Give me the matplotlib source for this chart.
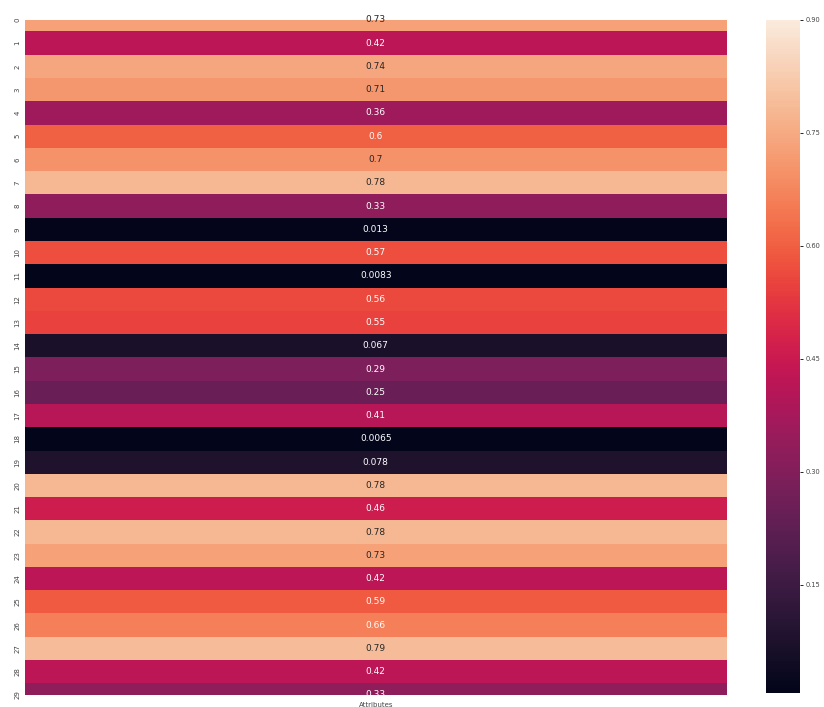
import matplotlib
matplotlib.use("Agg")
import matplotlib.pyplot as plt
from matplotlib.ticker import FixedLocator, FormatStrFormatter
import seaborn as sns
import pandas as pd

# valeurs (colonne unique "Attributes")
filas = list(range(30))
valores = [0.73, 0.42, 0.74, 0.71, 0.36, 0.6, 0.7, 0.78, 0.33, 0.013,
           0.57, 0.0083, 0.56, 0.55, 0.067, 0.29, 0.25, 0.41, 0.0065, 0.078,
           0.78, 0.46, 0.78, 0.73, 0.42, 0.59, 0.66, 0.79, 0.42, 0.33]
columnas = ["Attributes"]
ticks_cbar = [0.15, 0.30, 0.45, 0.60, 0.75, 0.90]

df = pd.DataFrame({"Attributes": valores}, index=filas)

fig = plt.figure(figsize=(8.24, 7.07), dpi=100)
ax = fig.add_axes([0.030, 0.017, 0.852, 0.955])
cax = fig.add_axes([0.930, 0.020, 0.041, 0.952])

sns.heatmap(df, annot=True, fmt=".2g", ax=ax, cbar_ax=cax,
            vmin=0.0065, vmax=0.90, annot_kws={"size": 6.5})

# bug de matplotlib 3.1.1: filas de arriba y abajo cortadas por la mitad
ax.set_ylim(29.5, 0.5)

ax.set_yticklabels(filas, rotation=90, va="center", fontsize=5, color="#444444")
ax.set_xticklabels(columnas, fontsize=5, color="#444444")
ax.tick_params(axis="y", length=0, pad=3)
ax.tick_params(axis="x", length=0, pad=5)

cax.yaxis.set_major_locator(FixedLocator(ticks_cbar))
cax.yaxis.set_major_formatter(FormatStrFormatter("%.2f"))
cax.tick_params(labelsize=4.8, labelcolor="#444444", length=2.5, width=0.6, pad=1.5)

fig.savefig("out.png", dpi=100)
